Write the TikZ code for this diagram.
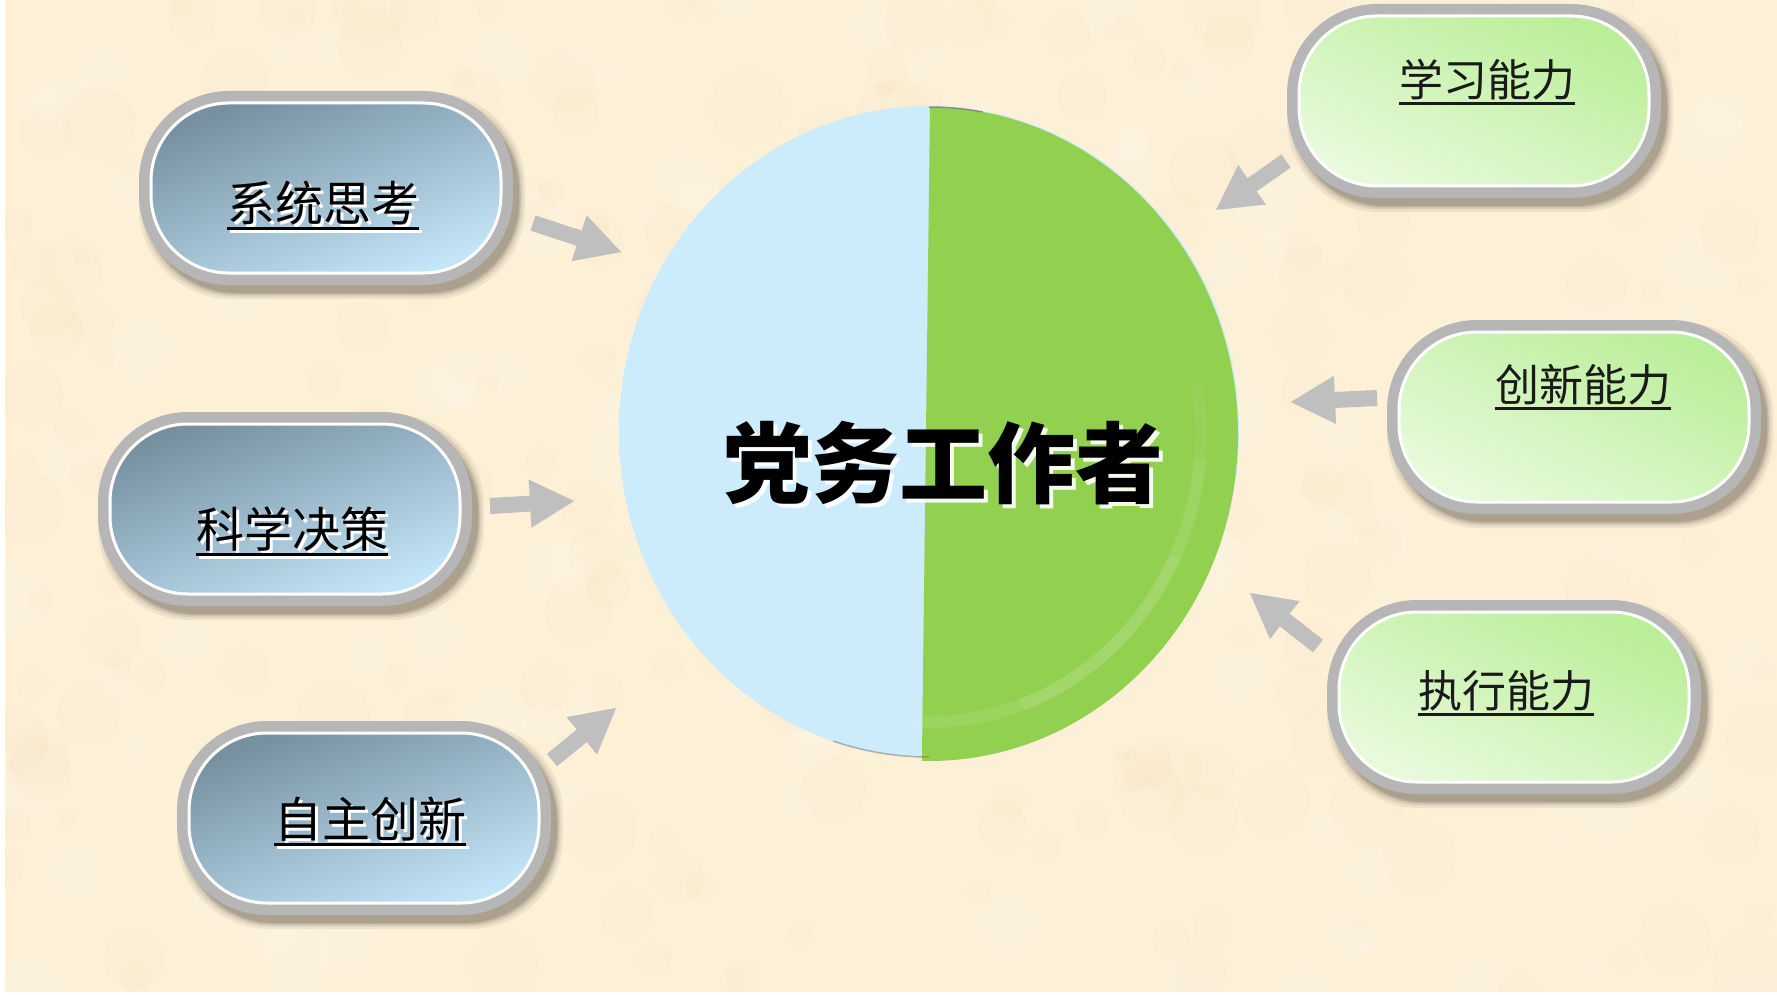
\documentclass[tikz,border=0pt]{standalone}
\usepackage{fontspec}
\newfontfamily\cjk{Noto Sans CJK SC}
\usetikzlibrary{arrows.meta}
\definecolor{bgcream}{HTML}{FCF0D7}
\definecolor{blobdark}{HTML}{EBD3A8}
\definecolor{ringgray}{HTML}{B6B6B6}
\definecolor{shadowc}{HTML}{857C6C}
\definecolor{bluetop}{HTML}{7690A0}
\definecolor{bluebot}{HTML}{C3E5F8}
\definecolor{greentop}{HTML}{BAEE98}
\definecolor{greenbot}{HTML}{E8FADC}
\definecolor{piegreen}{HTML}{92D050}
\definecolor{arrowgray}{HTML}{BFBFBF}
\definecolor{txtdark}{HTML}{1A1A1A}
\pgfdeclareradialshading{pieball}{\pgfpoint{0bp}{0bp}}{rgb(0bp)=(0.80,0.92,0.985); rgb(41bp)=(0.80,0.92,0.985); rgb(48bp)=(0.775,0.9,0.97); rgb(50bp)=(0.72,0.86,0.94)}
\tikzset{
  shadowlayer/.style={rectangle, rounded corners=92pt, inner sep=0pt, fill=shadowc},
  outerbox/.style={rectangle, rounded corners=90pt, minimum width=374pt, minimum height=194pt, inner sep=0pt, fill=ringgray},
  innerbox/.style={rectangle, rounded corners=78pt, minimum width=350pt, minimum height=170pt, inner sep=0pt, draw=white, line width=3pt},
  bluefill/.style={top color=bluetop, bottom color=bluebot, shading angle=20},
  greenfill/.style={top color=greentop, bottom color=greenbot, shading angle=-25},
  bluelbl/.style={inner sep=0pt, font=\cjk\fontsize{48}{48}\selectfont},
  greenlbl/.style={inner sep=0pt, font=\cjk\fontsize{44}{44}\selectfont, text=txtdark},
  ulline/.style={line width=3pt},
  blockarrow/.style={draw=arrowgray, line width=16pt, -{Triangle[length=44pt,width=48pt,line width=0.1pt]}},
  centertext/.style={inner sep=0pt, font=\cjk\bfseries\fontsize{88}{88}\selectfont}
}
\newcommand{\mkbox}[4]{% name, x, y, fill style
  \foreach \e/\o in {12/0.12,7/0.18,3/0.3,0/0.35}{
    \node[shadowlayer, minimum width={374pt+\e pt}, minimum height={194pt+\e pt}, opacity=\o] at (#2+6,#3+8) {};}
  \node[outerbox] (#1) at (#2,#3) {};
  \node[innerbox, #4] (#1i) at (#2,#3) {};
}
\newcommand{\bluelabel}[4]{% name, x, y, text
  \node[bluelbl, text=white] (#1s) at (#2+3,#3+3) {#4};
  \draw[ulline, white] ([yshift=-3pt]#1s.south west) -- ([yshift=-3pt]#1s.south east);
  \node[bluelbl, text=black] (#1) at (#2,#3) {#4};
  \draw[ulline, black] ([yshift=-3pt]#1.south west) -- ([yshift=-3pt]#1.south east);
}
\newcommand{\greenlabel}[4]{% name, x, y, text
  \node[greenlbl] (#1) at (#2,#3) {#4};
  \draw[ulline, txtdark] ([yshift=-3pt]#1.south west) -- ([yshift=-3pt]#1.south east);
}
\begin{document}
\begin{tikzpicture}[x=1pt,y=-1pt]
\useasboundingbox (0,0) rectangle (1777,995);
% background
\fill[white] (0,0) rectangle (1777,995);
\fill[bgcream] (5,0) rectangle (1777,992);
\begin{scope}
\clip (5,0) rectangle (1777,992);
\pgfmathsetseed{11}
\foreach \i in {1,...,260}{
  \pgfmathsetmacro\bx{5+rnd*1772}
  \pgfmathsetmacro\by{rnd*992}
  \pgfmathsetmacro\br{8+rnd*30}
  \fill[blobdark, opacity=0.05] (\bx,\by) circle[radius=\br];
}
\foreach \i in {1,...,160}{
  \pgfmathsetmacro\bx{5+rnd*1772}
  \pgfmathsetmacro\by{rnd*992}
  \pgfmathsetmacro\br{8+rnd*28}
  \fill[white, opacity=0.09] (\bx,\by) circle[radius=\br];
}
\end{scope}

% pie
\shade[shading=pieball] (929,431.5) ellipse [x radius=310, y radius=325.5];
\begin{scope}
\clip (929,434) ellipse [x radius=309, y radius=327];
\fill[piegreen] (930.2,90) -- (1260,90) -- (1260,780) -- (921.7,780) -- cycle;
\foreach \sa/\ea/\op in {-10/5/0.05, 5/25/0.11, 25/70/0.16, 70/92/0.09}{
  \draw[white, opacity=\op, line width=12pt] ([shift={(\sa:272 and 288)}]929,434) arc[start angle=\sa, end angle=\ea, x radius=272, y radius=288];
}
\end{scope}
\draw[black!55, line width=1.5pt, opacity=0.7] ([shift={(-90:309 and 327)}]929,434) arc[start angle=-90, end angle=-80, x radius=309, y radius=327];
\draw[black!55, line width=1.5pt, opacity=0.5] ([shift={(90:310 and 325.5)}]929,431.5) arc[start angle=90, end angle=108, x radius=310, y radius=325.5];

% center text
\node[centertext, text=white, opacity=0.9] (centers) at (947,467) {党务工作者};
\node[centertext, text=black] (center) at (943,463) {党务工作者};

% boxes
\mkbox{b1}{326}{188}{bluefill}
\mkbox{b2}{285}{509}{bluefill}
\mkbox{b3}{364}{818}{bluefill}
\mkbox{b4}{1474}{101}{greenfill}
\mkbox{b5}{1574}{417}{greenfill}
\mkbox{b6}{1514}{697}{greenfill}

% labels
\bluelabel{t1}{323}{203}{系统思考}
\bluelabel{t2}{292}{529}{科学决策}
\bluelabel{t3}{370}{819}{自主创新}
\greenlabel{t4}{1487}{80}{学习能力}
\greenlabel{t5}{1583}{385}{创新能力}
\greenlabel{t6}{1506}{691}{执行能力}

% arrows
\coordinate (a1s) at (533,223); \coordinate (a1e) at (621,252);
\coordinate (a2s) at (490,506); \coordinate (a2e) at (574,501);
\coordinate (a3s) at (552,760); \coordinate (a3e) at (616,708);
\coordinate (a4s) at (1286,161); \coordinate (a4e) at (1216,210);
\coordinate (a5s) at (1377,398); \coordinate (a5e) at (1291,402);
\coordinate (a6s) at (1318,646); \coordinate (a6e) at (1250,593);
\draw[blockarrow] (a1s) -- (a1e);
\draw[blockarrow] (a2s) -- (a2e);
\draw[blockarrow] (a3s) -- (a3e);
\draw[blockarrow] (a4s) -- (a4e);
\draw[blockarrow] (a5s) -- (a5e);
\draw[blockarrow] (a6s) -- (a6e);
\end{tikzpicture}
\end{document}
